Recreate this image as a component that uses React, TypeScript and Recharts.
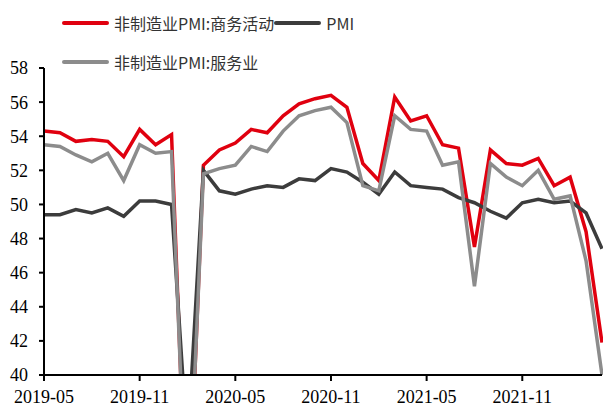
import { LineChart, Line, XAxis, YAxis } from "recharts";

const months = [
  "2019-05", "2019-06", "2019-07", "2019-08", "2019-09", "2019-10", "2019-11", "2019-12",
  "2020-01", "2020-02", "2020-03", "2020-04", "2020-05", "2020-06", "2020-07", "2020-08",
  "2020-09", "2020-10", "2020-11", "2020-12", "2021-01", "2021-02", "2021-03", "2021-04",
  "2021-05", "2021-06", "2021-07", "2021-08", "2021-09", "2021-10", "2021-11", "2021-12",
  "2022-01", "2022-02", "2022-03", "2022-04",
];

// 非制造业PMI:商务活动
const nonMfgBusiness = [
  54.3, 54.2, 53.7, 53.8, 53.7, 52.8, 54.4, 53.5,
  54.1, 29.6, 52.3, 53.2, 53.6, 54.4, 54.2, 55.2,
  55.9, 56.2, 56.4, 55.7, 52.4, 51.4, 56.3, 54.9,
  55.2, 53.5, 53.3, 47.5, 53.2, 52.4, 52.3, 52.7,
  51.1, 51.6, 48.4, 41.9,
];

// PMI
const pmi = [
  49.4, 49.4, 49.7, 49.5, 49.8, 49.3, 50.2, 50.2,
  50.0, 35.7, 52.0, 50.8, 50.6, 50.9, 51.1, 51.0,
  51.5, 51.4, 52.1, 51.9, 51.3, 50.6, 51.9, 51.1,
  51.0, 50.9, 50.4, 50.1, 49.6, 49.2, 50.1, 50.3,
  50.1, 50.2, 49.5, 47.4,
];

// 非制造业PMI:服务业
const nonMfgService = [
  53.5, 53.4, 52.9, 52.5, 53.0, 51.4, 53.5, 53.0,
  53.1, 30.1, 51.8, 52.1, 52.3, 53.4, 53.1, 54.3,
  55.2, 55.5, 55.7, 54.8, 51.1, 50.8, 55.2, 54.4,
  54.3, 52.3, 52.5, 45.2, 52.4, 51.6, 51.1, 52.0,
  50.3, 50.5, 46.7, 40.0,
];

const yTicks = [40, 42, 44, 46, 48, 50, 52, 54, 56, 58];

const RED = "#e0000f";
const DARK = "#3c3c3c";
const GRAY = "#8c8c8c";

const data = months.map((m, i) => ({
  month: m,
  business: nonMfgBusiness[i],
  pmi: pmi[i],
  service: nonMfgService[i],
}));

const legendFont = "'Noto Sans CJK SC', 'Noto Sans', sans-serif";

function LegendItem({ color, label }: { color: string; label: string }) {
  return (
    <span style={{ display: "inline-flex", alignItems: "center" }}>
      <span
        style={{
          display: "inline-block",
          width: 47,
          height: 4,
          borderRadius: 2,
          background: color,
          marginRight: 5,
        }}
      />
      <span style={{ fontSize: 16, color: "#333", whiteSpace: "nowrap" }}>{label}</span>
    </span>
  );
}

export default function App() {
  return (
    <div
      style={{
        position: "absolute",
        left: 0,
        top: 0,
        width: 603,
        height: 405,
        background: "#fff",
        overflow: "hidden",
      }}
    >
      <div
        style={{
          position: "absolute",
          left: 62,
          top: 11,
          fontFamily: legendFont,
          lineHeight: "24px",
        }}
      >
        <div style={{ display: "flex", alignItems: "center" }}>
          <LegendItem color={RED} label="非制造业PMI:商务活动" />
          <LegendItem color={DARK} label="PMI" />
        </div>
        <div style={{ display: "flex", alignItems: "center", marginTop: 15 }}>
          <LegendItem color={GRAY} label="非制造业PMI:服务业" />
        </div>
      </div>
      <LineChart
        width={603}
        height={405}
        data={data}
        margin={{ top: 68, right: 1, bottom: 0, left: 0 }}
      >
        <XAxis
          dataKey="month"
          interval={5}
          height={30}
          tickSize={6}
          tickMargin={9}
          axisLine={{ stroke: "#000", strokeWidth: 2 }}
          tickLine={{ stroke: "#000", strokeWidth: 2 }}
          tick={{ fill: "#000", fontSize: 18, fontFamily: "'Liberation Serif', serif" }}
        />
        <YAxis
          domain={[40, 58]}
          ticks={yTicks}
          allowDataOverflow
          width={44}
          tickSize={5}
          tickMargin={11}
          axisLine={{ stroke: "#000", strokeWidth: 2 }}
          tickLine={{ stroke: "#000", strokeWidth: 2 }}
          tick={{ fill: "#000", fontSize: 18, fontFamily: "'Liberation Serif', serif" }}
        />
        <Line
          type="linear"
          dataKey="business"
          stroke={RED}
          strokeWidth={3.5}
          dot={false}
          isAnimationActive={false}
        />
        <Line
          type="linear"
          dataKey="pmi"
          stroke={DARK}
          strokeWidth={3.5}
          dot={false}
          isAnimationActive={false}
        />
        <Line
          type="linear"
          dataKey="service"
          stroke={GRAY}
          strokeWidth={3.5}
          dot={false}
          isAnimationActive={false}
        />
      </LineChart>
    </div>
  );
}
